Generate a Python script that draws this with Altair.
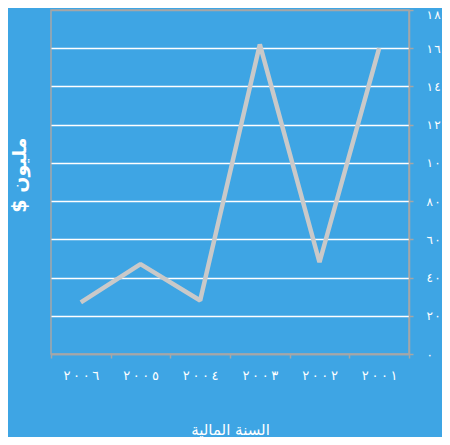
import altair as alt
import pandas as pd

# ---- data ----
years = ["2006", "2005", "2004", "2003", "2002", "2001"]
values = [27, 47, 28, 162, 48, 160]
x_tick_labels = ["٢٠٠٦", "٢٠٠٥", "٢٠٠٤", "٢٠٠٣", "٢٠٠٢", "٢٠٠١"]
y_tick_values = [0, 20, 40, 60, 80, 100, 120, 140, 160, 180]
y_tick_labels = ["٠", "٢٠", "٤٠", "٦٠", "٨٠", "١٠", "١٢", "١٤", "١٦", "١٨"]
x_title = "السنة المالية"
y_title = "$ مليون"

BG = "#3ea5e4"
GRAY = "#a6a6a6"
LINE = "#c9c9c9"
FONT = "DejaVu Sans"
SEP = "\u200e\u2009"


def spaced(s, sep):
    return sep.join(list(s))


def label_expr(keys, labels, quote, sep):
    expr = "''"
    for k, lab in reversed(list(zip(keys, labels))):
        kk = f"'{k}'" if quote else str(k)
        expr = f"datum.value == {kk} ? '{spaced(lab, sep)}' : ({expr})"
    return expr


df = pd.DataFrame({"year": years, "value": values})

chart = (
    alt.Chart(df)
    .mark_line(color=LINE, strokeWidth=4.5, strokeJoin="bevel", strokeCap="butt")
    .encode(
        x=alt.X(
            "year:N",
            sort=years,
            scale=alt.Scale(type="band", paddingInner=0, paddingOuter=0),
            axis=alt.Axis(
                title=x_title,
                labelExpr=label_expr(years, x_tick_labels, True, SEP),
                labelAngle=0,
                tickBand="extent",
                grid=False,
                domainColor=GRAY,
                domainWidth=1.5,
                tickColor=GRAY,
                tickWidth=1.5,
                tickSize=4,
                labelPadding=11,
                labelColor="white",
                labelFont=FONT,
                labelFontSize=13,
                titleColor="white",
                titleFont=FONT,
                titleFontSize=15,
                titleFontWeight="normal",
                titlePadding=40,
            ),
        ),
        y=alt.Y(
            "value:Q",
            scale=alt.Scale(domain=[0, 180], nice=False, zero=True),
            axis=alt.Axis(
                title=None,
                orient="right",
                values=y_tick_values,
                labelExpr=label_expr(y_tick_values, y_tick_labels, False, "\u200e\u200a"),
                labelOffset={
                    "condition": {"test": "datum.value == 180", "value": 4},
                    "value": 0,
                },
                domainColor=GRAY,
                domainWidth=1.5,
                tickColor=GRAY,
                tickWidth=1.5,
                tickSize=4,
                labelPadding=13,
                labelColor="white",
                labelFont=FONT,
                labelFontSize=12,
                gridColor={
                    "condition": {
                        "test": "datum.value == 0 || datum.value == 180",
                        "value": GRAY,
                    },
                    "value": "white",
                },
                gridWidth=1.5,
            ),
        ),
    )
    .properties(
        width=358,
        height=344,
        background=BG,
        padding={"left": 43, "top": 2, "right": 33, "bottom": 83},
        autosize=alt.AutoSizeParams(type="none"),
        title=alt.Title(
            y_title,
            orient="left",
            anchor="middle",
            color="white",
            font=FONT,
            fontSize=19,
            fontWeight="bold",
            offset=20,
            dx=7,
        ),
    )
    .configure_view(stroke=GRAY, strokeWidth=1.5)
)

chart.save("out.html", embed_options={"renderer": "svg", "actions": False})
